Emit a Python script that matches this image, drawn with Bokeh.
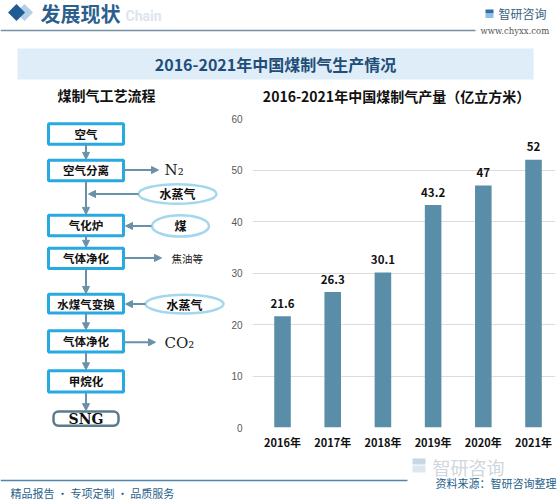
from bokeh.plotting import figure
from bokeh.layouts import column, row
from bokeh.models import Range1d, FixedTicker, Arrow, NormalHead
from bokeh.core.properties import value
from bokeh.embed import file_html
from bokeh.resources import INLINE
import math

# ---------------- data ----------------
years = ["2016年", "2017年", "2018年", "2019年", "2020年", "2021年"]
output_vals = [21.6, 26.3, 30.1, 43.2, 47, 52]
y_ticks = [0, 10, 20, 30, 40, 50, 60]

main_title = "2016-2021年中国煤制气生产情况"
left_title = "煤制气工艺流程"
chart_title = "2016-2021年中国煤制气产量（亿立方米）"

flow_steps = ["空气", "空气分离", "气化炉", "气体净化", "水煤气变换", "气体净化", "甲烷化"]
flow_end = "SNG"
inputs = ["水蒸气", "煤", "水蒸气"]
outputs = ["N₂", "焦油等", "CO₂"]

CJK = "Noto Sans CJK SC"
SERIF = "DejaVu Serif"


def canvas(w, h, x0, x1, y0, y1):
    p = figure(width=w, height=h, x_range=Range1d(x0, x1), y_range=Range1d(y1, y0),
               output_backend="svg", toolbar_location=None,
               x_axis_location=None, y_axis_location=None, min_border=0)
    p.grid.visible = False
    p.outline_line_color = None
    return p


# ---------------- header ----------------
top = canvas(560, 104, 0, 560, 0, 104)
top.scatter(x=[24], y=[12], marker="square", angle=math.pi / 4, size=12,
            fill_color="#b5cfe6", line_color=None)
top.scatter(x=[16], y=[12], marker="square", angle=math.pi / 4, size=12,
            fill_color="#1f5b94", line_color=None)
top.text(x=[40], y=[12.5], text=["发展现状"], text_font=value(CJK), text_font_style="bold",
         text_font_size="20px", text_color="#2c5f8d", text_baseline="middle")
top.text(x=[125], y=[15], text=["Chain"], text_font=value("Roboto"), text_font_style="bold",
         text_font_size="14px", text_color="#dde5ee", text_baseline="middle")
top.segment(x0=[0], y0=[30], x1=[475], y1=[30], line_color="#7690a5", line_width=1.5)
top.quad(left=[485], right=[493], top=[9], bottom=[13], fill_color="#2f6db0", line_color=None)
top.quad(left=[485], right=[493], top=[13.5], bottom=[17.5], fill_color="#8fc0e6", line_color=None)
top.text(x=[498], y=[13], text=["智研咨询"], text_font=value(CJK), text_font_size="12px",
         text_color="#3a5f80", text_baseline="middle")
top.text(x=[480], y=[30], text=["www.chyxx.com"], text_font=value(SERIF), text_font_size="8.5px",
         text_color="#555555", text_baseline="middle")
top.quad(left=[17], right=[533], top=[48], bottom=[79], fill_color="#deedf7", line_color=None)
top.text(x=[275], y=[63.5], text=[main_title], text_font=value(CJK), text_font_style="bold",
         text_font_size="16px", text_color="#1f4e79", text_align="center", text_baseline="middle")
top.text(x=[106], y=[94], text=[left_title], text_font=value(CJK), text_font_style="bold",
         text_font_size="14px", text_color="#111111", text_align="center", text_baseline="middle")
top.text(x=[396], y=[95], text=[chart_title], text_font=value(CJK), text_font_style="bold",
         text_font_size="14px", text_color="#111111", text_align="center", text_baseline="middle")

# ---------------- flow diagram ----------------
left = canvas(225, 348, 0, 225, 104, 452)
box_top = [110, 151, 213, 250, 302, 343, 388]
box_bot = [133, 174, 236, 273, 323, 367, 412]
bx0, bx1, bxc = 48, 123, 85.5
ARROW = "#6b91a8"

# vertical arrows
v_from = [133, 174, 236, 273, 323, 367, 412]
v_to = [151, 213, 250, 302, 343, 388, 434]
for a, b in zip(v_from, v_to):
    left.add_layout(Arrow(end=NormalHead(size=7, fill_color=ARROW, line_color=ARROW),
                          x_start=bxc, y_start=a, x_end=bxc, y_end=b - 1,
                          line_color=ARROW, line_width=2))

left.quad(left=[bx0] * 7, right=[bx1] * 7, top=box_top, bottom=box_bot,
          fill_color="white", line_color="#27a9e1", line_width=3)
left.text(x=[bxc] * 7, y=[(a + b) / 2 for a, b in zip(box_top, box_bot)], text=flow_steps,
          text_font=value(CJK), text_font_style="bold", text_font_size="11.5px",
          text_color="#111111", text_align="center", text_baseline="middle")

# SNG end box
left.quad(left=[53], right=[118], top=[434], bottom=[450], fill_color="white",
          line_color="#5b7a8c", line_width=2.5, border_radius=5)
left.text(x=[bxc], y=[442.5], text=[flow_end], text_font=value(SERIF), text_font_style="bold",
          text_font_size="14px", text_color="#111111", text_align="center", text_baseline="middle")

# inputs (ellipses)
ex = [177, 180, 184]
ey = [189, 225, 313]
ew = [78, 57, 78]
eh = [22, 24, 21]
left.ellipse(x=ex, y=ey, width=ew, height=eh, fill_color="white",
             line_color="#a3d7ee", line_width=2.5)
left.text(x=ex, y=ey, text=inputs, text_font=value(CJK), text_font_style="bold",
          text_font_size="12px", text_color="#111111", text_align="center", text_baseline="middle")
in_x0 = [138, 151, 145]
in_x1 = [88, 125, 125]
for a, b, y in zip(in_x0, in_x1, ey):
    left.add_layout(Arrow(end=NormalHead(size=7, fill_color=ARROW, line_color=ARROW),
                          x_start=a, y_start=y, x_end=b, y_end=y,
                          line_color=ARROW, line_width=2))

# outputs
out_y = [162, 261, 356]
out_x1 = [158, 161, 155]
for b, y in zip(out_x1, out_y):
    left.add_layout(Arrow(end=NormalHead(size=7, fill_color=ARROW, line_color=ARROW),
                          x_start=bx1 + 1, y_start=y, x_end=b, y_end=y,
                          line_color=ARROW, line_width=2))
left.text(x=[164], y=[162], text=[outputs[0]], text_font=value(SERIF), text_font_size="15px",
          text_color="#222222", text_baseline="middle")
left.text(x=[171], y=[262], text=[outputs[1]], text_font=value(CJK), text_font_size="10.5px",
          text_color="#222222", text_baseline="middle")
left.text(x=[164], y=[357], text=[outputs[2]], text_font=value(SERIF), text_font_size="15px",
          text_color="#222222", text_baseline="middle")

# ---------------- bar chart ----------------
idx = list(range(len(years)))
chart = figure(width=335, height=348, x_range=Range1d(-0.598, 5.438), y_range=Range1d(0, 60),
               output_backend="svg", toolbar_location=None,
               min_border_left=27, min_border_right=5, min_border_top=14, min_border_bottom=24)
chart.vbar(x=idx, top=output_vals, width=0.33, fill_color="#5a8ea8", line_color=None)
chart.text(x=idx, y=output_vals, text=[str(v) for v in output_vals], y_offset=-13,
           text_font=value(CJK), text_font_style="bold", text_font_size="11.5px",
           text_color="#111111", text_align="center", text_baseline="middle")

chart.yaxis.ticker = FixedTicker(ticks=y_ticks)
chart.yaxis.axis_line_color = None
chart.yaxis.major_tick_line_color = None
chart.yaxis.minor_tick_line_color = None
chart.yaxis.major_label_text_font_size = "10px"
chart.yaxis.major_label_text_color = "#595959"
chart.yaxis.major_label_standoff = 4

chart.xaxis.ticker = FixedTicker(ticks=idx)
chart.xaxis.major_label_overrides = {i: y for i, y in zip(idx, years)}
chart.xaxis.axis_line_color = None
chart.xaxis.major_tick_line_color = None
chart.xaxis.minor_tick_line_color = None
chart.xaxis.major_label_text_font = CJK
chart.xaxis.major_label_text_font_style = "bold"
chart.xaxis.major_label_text_font_size = "11px"
chart.xaxis.major_label_text_color = "#111111"
chart.xaxis.major_label_standoff = 0

chart.xgrid.visible = False
chart.ygrid.grid_line_color = "#dcdcdc"
chart.outline_line_color = None

# ---------------- footer ----------------
bottom = canvas(560, 48, 0, 560, 452, 500)
bottom.quad(left=[412], right=[425], top=[458], bottom=[464], fill_color="#c9d6e3", line_color=None)
bottom.quad(left=[412], right=[425], top=[465], bottom=[472], fill_color="#dce7f0", line_color=None)
bottom.text(x=[432], y=[466], text=["智研咨询"], text_font=value(CJK), text_font_size="18px",
            text_color="#cfd6dd", text_baseline="middle")
bottom.segment(x0=[0], y0=[480], x1=[407], y1=[480], line_color="#4f86ad", line_width=1.5)
bottom.text(x=[556], y=[482], text=["资料来源：智研咨询整理"], text_font=value(CJK),
            text_font_size="11px", text_color="#1f5f8b", text_align="right", text_baseline="middle")
bottom.text(x=[10], y=[492], text=["精品报告 · 专项定制 · 品质服务"], text_font=value(CJK),
            text_font_size="11px", text_color="#1f5f8b", text_baseline="middle")

layout = column(top, row(left, chart), bottom)
open("out.html", "w").write(file_html(layout, INLINE))
